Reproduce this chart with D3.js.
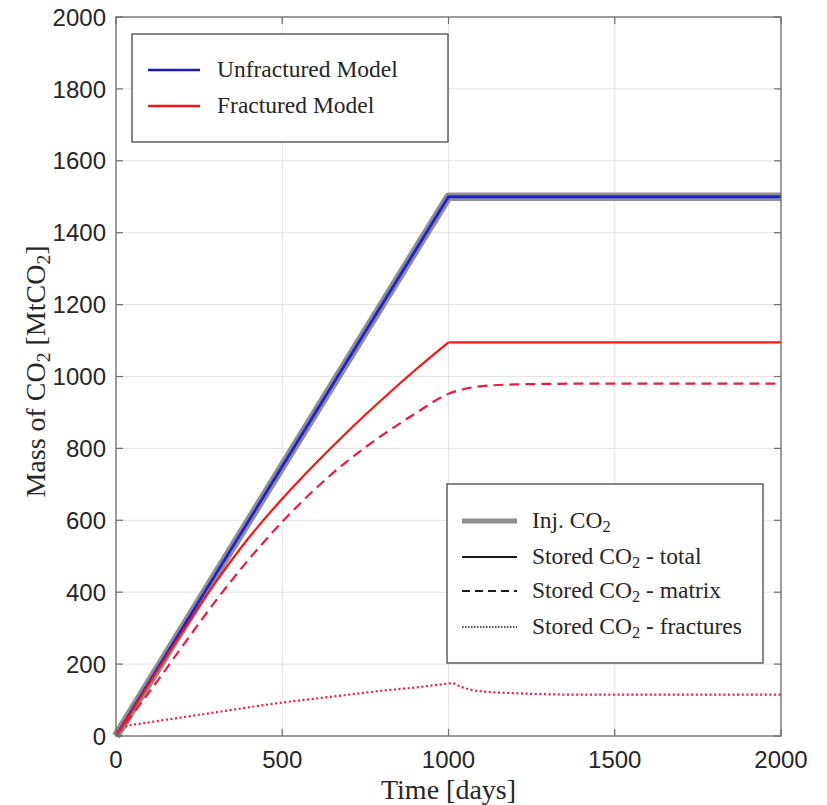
<!DOCTYPE html>
<html>
<head>
<meta charset="utf-8">
<script src="https://cdn.jsdelivr.net/npm/d3@7"></script>
<style>
  body { margin: 0; background: #fff; }
  svg { display: block; }
</style>
</head>
<body>
<div id="chart"></div>
<script>
// values (days, MtCO2)
const xTicks = [0, 500, 1000, 1500, 2000];
const yTicks = [0, 200, 400, 600, 800, 1000, 1200, 1400, 1600, 1800, 2000];

const injDays = [0, 1000, 2000];
const injMass = [0, 1500, 1500];

const unfracDays = [0, 1000, 2000];
const unfracTotal = [0, 1500, 1500];

const fracTotalDays = [0, 100, 200, 300, 400, 500, 600, 700, 800, 900, 1000, 2000];
const fracTotal = [0, 146, 290, 428, 552, 660, 758, 850, 936, 1018, 1095, 1095];

const fracMatrixDays = [0, 100, 200, 300, 400, 500, 600, 700, 800, 900, 1000, 1050, 1100, 1200, 1400, 2000];
const fracMatrix = [0, 122, 250, 376, 492, 596, 688, 768, 836, 897, 952, 966, 973, 978, 980, 980];

const fracFractDays = [0, 10, 25, 100, 200, 300, 400, 500, 600, 700, 800, 900, 1000, 1010, 1040, 1100, 1200, 1400, 2000];
const fracFract = [0, 18, 25, 38, 52, 66, 80, 93, 104, 115, 126, 135, 146, 147, 136, 124, 119, 115, 115];

const W = 827, H = 805;
const plotL = 116, plotR = 781, plotT = 17, plotB = 736;

const svg = d3.select("#chart").append("svg")
    .attr("width", W)
    .attr("height", H);

const x = d3.scaleLinear().domain([0, 2000]).range([plotL, plotR]);
const y = d3.scaleLinear().domain([0, 2000]).range([plotB, plotT]);

const zip = (xs, ys) => xs.map((d, i) => [d, ys[i]]);

// grid
svg.append("g")
    .selectAll("line")
    .data(xTicks)
    .join("line")
    .attr("x1", d => x(d)).attr("x2", d => x(d))
    .attr("y1", plotT).attr("y2", plotB)
    .attr("stroke", "#e4e4e4").attr("stroke-width", 1);

svg.append("g")
    .selectAll("line")
    .data(yTicks)
    .join("line")
    .attr("y1", d => y(d)).attr("y2", d => y(d))
    .attr("x1", plotL).attr("x2", plotR)
    .attr("stroke", "#e4e4e4").attr("stroke-width", 1);

const straight = d3.line().x(d => x(d[0])).y(d => y(d[1]));
const smooth = d3.line().x(d => x(d[0])).y(d => y(d[1])).curve(d3.curveMonotoneX);

// injected CO2 (thick grey)
svg.append("path")
    .attr("d", straight(zip(injDays, injMass)))
    .attr("fill", "none")
    .attr("stroke", "#8f8f8f")
    .attr("stroke-width", 8.5)
    .attr("stroke-linejoin", "round");

// unfractured model total
svg.append("path")
    .attr("d", straight(zip(unfracDays, unfracTotal)))
    .attr("fill", "none")
    .attr("stroke", "#2020d8")
    .attr("stroke-width", 2.8);

// fractured model: total (rise is smooth, plateau straight)
const totPts = zip(fracTotalDays, fracTotal);
svg.append("path")
    .attr("d", smooth(totPts.filter(p => p[0] <= 1000)))
    .attr("fill", "none")
    .attr("stroke", "#ff1414")
    .attr("stroke-width", 2.2);
svg.append("path")
    .attr("d", straight(totPts.filter(p => p[0] >= 1000)))
    .attr("fill", "none")
    .attr("stroke", "#ff1414")
    .attr("stroke-width", 2.2);

// matrix
svg.append("path")
    .attr("d", smooth(zip(fracMatrixDays, fracMatrix)))
    .attr("fill", "none")
    .attr("stroke", "#ec1c40")
    .attr("stroke-width", 2.2)
    .attr("stroke-dasharray", "10,6");

// fractures
svg.append("path")
    .attr("d", smooth(zip(fracFractDays, fracFract)))
    .attr("fill", "none")
    .attr("stroke", "#ec1c40")
    .attr("stroke-width", 2.2)
    .attr("stroke-dasharray", "2,2.6");

// axes box + inward ticks on all sides
const axisColor = "#6e6e6e";
svg.append("rect")
    .attr("x", plotL).attr("y", plotT)
    .attr("width", plotR - plotL).attr("height", plotB - plotT)
    .attr("fill", "none").attr("stroke", axisColor).attr("stroke-width", 1.3);

const tickLen = 7;
const ticks = svg.append("g").attr("stroke", axisColor).attr("stroke-width", 1.2);
xTicks.forEach(t => {
    ticks.append("line").attr("x1", x(t)).attr("x2", x(t)).attr("y1", plotB).attr("y2", plotB - tickLen);
    ticks.append("line").attr("x1", x(t)).attr("x2", x(t)).attr("y1", plotT).attr("y2", plotT + tickLen);
});
yTicks.forEach(t => {
    ticks.append("line").attr("y1", y(t)).attr("y2", y(t)).attr("x1", plotL).attr("x2", plotL + tickLen);
    ticks.append("line").attr("y1", y(t)).attr("y2", y(t)).attr("x1", plotR).attr("x2", plotR - tickLen);
});

// tick labels
const tickFont = "'Liberation Sans', Arial, sans-serif";
svg.append("g")
    .selectAll("text")
    .data(yTicks)
    .join("text")
    .attr("x", plotL - 10)
    .attr("y", d => y(d))
    .attr("dy", "0.36em")
    .attr("text-anchor", "end")
    .attr("font-family", tickFont)
    .attr("font-size", 24)
    .attr("fill", "#262626")
    .text(d => d);

svg.append("g")
    .selectAll("text")
    .data(xTicks)
    .join("text")
    .attr("x", d => x(d))
    .attr("y", plotB + 32)
    .attr("text-anchor", "middle")
    .attr("font-family", tickFont)
    .attr("font-size", 24)
    .attr("fill", "#262626")
    .text(d => d);

// axis labels (serif, LaTeX-like)
const serif = "'Liberation Serif', 'Times New Roman', serif";

// parts: [text, isSubscript]
function co2Text(sel, parts) {
    let wasSub = false;
    parts.forEach(([t, sub]) => {
        const ts = sel.append("tspan").text(t);
        if (sub) ts.attr("font-size", "0.7em").attr("dy", "0.25em");
        else if (wasSub) ts.attr("dy", "-0.175em");
        wasSub = sub;
    });
}

svg.append("text")
    .attr("x", (plotL + plotR) / 2)
    .attr("y", 799)
    .attr("text-anchor", "middle")
    .attr("font-family", serif)
    .attr("font-size", 28)
    .attr("fill", "#262626")
    .text("Time [days]");

const yLab = svg.append("text")
    .attr("transform", `translate(45,${(plotT + plotB) / 2 - 5}) rotate(-90)`)
    .attr("text-anchor", "middle")
    .attr("font-family", serif)
    .attr("font-size", 28)
    .attr("fill", "#262626");
co2Text(yLab, [["Mass of CO", false], ["2", true], [" [MtCO", false], ["2", true], ["]", false]]);

// legend 1: models
const leg1 = svg.append("g");
leg1.append("rect")
    .attr("x", 132).attr("y", 34).attr("width", 316).attr("height", 108)
    .attr("fill", "#fff").attr("stroke", "#555").attr("stroke-width", 1.4);
const models = [
    { label: "Unfractured Model", color: "#1a1ab8", yy: 70 },
    { label: "Fractured Model", color: "#ee1818", yy: 106 }
];
models.forEach(m => {
    leg1.append("line")
        .attr("x1", 148).attr("x2", 200).attr("y1", m.yy).attr("y2", m.yy)
        .attr("stroke", m.color).attr("stroke-width", 2.4);
    leg1.append("text")
        .attr("x", 217).attr("y", m.yy + 7)
        .attr("font-family", serif).attr("font-size", 23.5)
        .attr("fill", "#262626")
        .text(m.label);
});

// legend 2: quantities
const leg2 = svg.append("g");
leg2.append("rect")
    .attr("x", 447).attr("y", 484).attr("width", 316).attr("height", 179)
    .attr("fill", "#fff").attr("stroke", "#555").attr("stroke-width", 1.4);
const kinds = [
    { parts: [["Inj. CO", false], ["2", true]], stroke: "#8f8f8f", w: 5, dash: null, yy: 521 },
    { parts: [["Stored CO", false], ["2", true], [" - total", false]], stroke: "#1a1a1a", w: 2, dash: null, yy: 557 },
    { parts: [["Stored CO", false], ["2", true], [" - matrix", false]], stroke: "#1a1a1a", w: 2, dash: "8,5", yy: 591 },
    { parts: [["Stored CO", false], ["2", true], [" - fractures", false]], stroke: "#1a1a1a", w: 1.6, dash: "1.5,1.5", yy: 627 }
];
kinds.forEach(k => {
    leg2.append("line")
        .attr("x1", 462).attr("x2", 517).attr("y1", k.yy).attr("y2", k.yy)
        .attr("stroke", k.stroke).attr("stroke-width", k.w)
        .attr("stroke-dasharray", k.dash);
    const t = leg2.append("text")
        .attr("x", 532).attr("y", k.yy + 7)
        .attr("font-family", serif).attr("font-size", 23.5)
        .attr("fill", "#262626");
    co2Text(t, k.parts);
});
</script>
</body>
</html>
